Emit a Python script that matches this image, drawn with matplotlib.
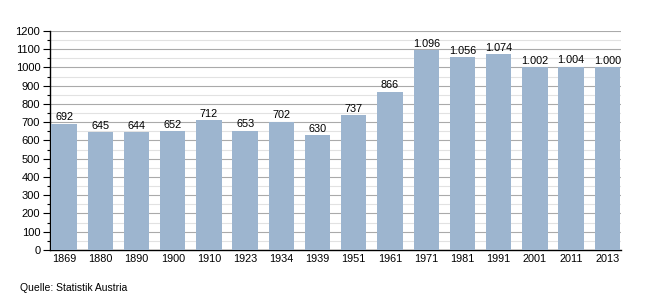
import numpy as np
import matplotlib.pyplot as plt
from matplotlib.ticker import MultipleLocator

plt.rcParams['font.family'] = ['Liberation Sans', 'DejaVu Sans']

# data
years = ['1869', '1880', '1890', '1900', '1910', '1923', '1934', '1939',
         '1951', '1961', '1971', '1981', '1991', '2001', '2011', '2013']
values = [692, 645, 644, 652, 712, 653, 702, 630,
          737, 866, 1096, 1056, 1074, 1002, 1004, 1000]

def fmt(v):
    # german thousands separator
    return f'{v:,}'.replace(',', '.')

fig = plt.figure(figsize=(6.5, 3), dpi=100)
ax = fig.add_axes([0.0769, 0.1667, 0.878, 0.73])

x = np.arange(len(years))
ax.bar(x, values, width=0.70, color='#9db5cf', zorder=3)
for xi, v in zip(x, values):
    ax.text(xi, v + 8, fmt(v), ha='center', va='bottom', fontsize=7.8, zorder=4)

ax.set_xlim(-0.39, len(years) - 0.63)
ax.set_ylim(0, 1200)
ax.yaxis.set_major_locator(MultipleLocator(100))
ax.yaxis.set_minor_locator(MultipleLocator(50))
ax.grid(axis='y', which='major', color='#aaaaaa', linewidth=0.8, zorder=0)
ax.grid(axis='y', which='minor', color='#e2e2e2', linewidth=0.8, zorder=0)

ax.set_xticks(x)
ax.set_xticklabels(years)
ax.tick_params(axis='x', length=0, labelsize=7.8, pad=3)
ax.tick_params(axis='y', which='major', length=5, width=0.8, labelsize=8, pad=2)
ax.tick_params(axis='y', which='minor', length=2.5, width=0.8)

for s in ['top', 'right']:
    ax.spines[s].set_visible(False)
ax.spines['left'].set_linewidth(1)
ax.spines['bottom'].set_linewidth(1)

fig.text(0.03, 0.03, 'Quelle: Statistik Austria', fontsize=7.5)

fig.savefig('out.png', dpi=100)
